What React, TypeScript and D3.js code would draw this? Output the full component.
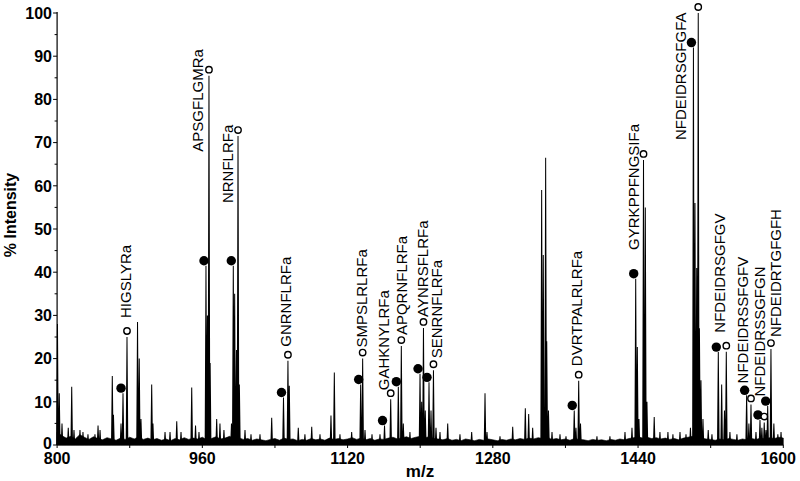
import React from 'react';
import * as d3 from 'd3';

// ---- data ----
const peakMz = [800.4, 802.4, 805.4, 812.3, 816.1, 818.6, 825.2, 828.5, 834, 841.7, 845.1, 847.3, 860.8, 862.1, 870.4, 888.6, 890.5, 892.4, 904.2, 905.6, 918.9, 924.4, 931.8, 936.5, 948.3, 952.5, 956.3, 965.6, 968.6, 975.8, 979.4, 983.8, 992.1, 995.6, 997.6, 1000.8, 1007, 1013.6, 1023.5, 1036.4, 1055.8, 1065.7, 1073, 1080.5, 1089.6, 1101.7, 1105.4, 1111.6, 1124.5, 1139.2, 1146.9, 1155.7, 1181.4, 1188.7, 1201.6, 1205.6, 1211.9, 1217.4, 1221.8, 1230.3, 1243.8, 1256.7, 1271.4, 1273.6, 1287.9, 1301.9, 1315.8, 1319.5, 1323.9, 1333.8, 1335.6, 1338.2, 1339.4, 1341.3, 1345.2, 1354, 1360.6, 1371.6, 1376.6, 1394.7, 1409, 1425.6, 1433.3, 1439.2, 1441, 1448, 1449.8, 1457.8, 1464.1, 1472.9, 1478.4, 1486.2, 1492.8, 1497.7, 1502.7, 1504.6, 1505.4, 1507.6, 1509.3, 1511.5, 1517.3, 1521.4, 1532.1, 1535.2, 1541.2, 1548.9, 1562.1, 1569.9, 1576.4, 1580.9, 1589.6, 1594, 1597.5];
const peakInt = [28, 12, 5, 4, 13.5, 3.5, 3.5, 3, 2.5, 2.5, 4.5, 3.5, 16, 7, 5, 28.5, 20, 6, 14, 5, 3, 3, 5.5, 3, 13.3, 4.5, 3, 30, 19, 6, 5, 3.5, 5, 35, 22, 14, 3.5, 2.5, 2.5, 6.3, 13.7, 4, 2.5, 4.2, 2.5, 6.8, 16.8, 2.5, 3, 3.5, 2.5, 2.5, 5, 3, 10, 8, 8, 4, 3, 5, 2.5, 3, 12, 3, 2, 4.2, 8.5, 7.2, 4, 59, 44, 66.5, 24, 8, 3, 2.5, 2, 4, 5, 2, 2, 3, 4, 22.7, 6, 55, 10, 6.5, 3, 3, 2.5, 3, 2.5, 4, 56, 41, 27, 27, 15, 6, 3.5, 2.5, 14, 8, 3, 2.5, 5, 3, 4, 3.5, 5, 2.5, 3];

const labelNames = ['HIGSLYRa', 'APSGFLGMRa', 'NRNFLRFa', 'GNRNFLRFa', 'SMPSLRLRFa', 'GAHKNYLRFa', 'APQRNFLRFa', 'AYNRSFLRFa', 'SENRNFLRFa', 'DVRTPALRLRFa', 'GYRKPPFNGSIFa', 'NFDEIDRSGFGFA', 'NFDEIDRSGFGV', 'NFDEIDRSSFGFV', 'NFDEIDRSSGFGN', 'NFDEIDRTGFGFH'];
const openMz = [877.0, 967.3, 999.3, 1054.3, 1136.6, 1167.5, 1179.2, 1203.6, 1214.6, 1374.6, 1446.0, 1506.3, 1537.2, 1564.4, 1579.0, 1586.4];
const openInt = [25, 85.5, 71.5, 19.5, 20, 10.6, 22.9, 27.1, 17.3, 14.9, 66, 100, 21.6, 9.4, 5.2, 22.2];
const filledMz = [872.6, 964.0, 994.1, 1049.4, 1134.4, 1160.7, 1175.9, 1199.8, 1209.7, 1369.7, 1437.4, 1501.0, 1528.4, 1559.6, 1574.3, 1582.8];
const filledInt = [12, 41.5, 41.5, 11, 14, 4.5, 13.5, 16.5, 14.5, 8, 38.5, 92, 21.5, 11.5, 5.8, 9];

// baseline noise level, one value every 5 m/z from 800 to 1600
const baselineStart = 800;
const baselineStep = 5;
const baselineVals = [
  3.0, 2.2, 1.6, 2.0, 1.4, 2.4, 1.8, 1.3, 1.9, 1.5, 1.2, 1.7, 1.4, 1.1, 1.6, 1.3, 1.8, 1.4, 1.9, 1.3,
  1.6, 1.2, 1.5, 1.1, 1.4, 1.0, 1.5, 1.2, 1.7, 1.3, 1.6, 1.4, 1.8, 1.2, 1.5, 1.9, 1.4, 1.6, 2.0, 1.5,
  1.7, 1.3, 1.5, 1.1, 1.4, 1.2, 1.0, 1.3, 1.5, 1.1, 1.6, 1.3, 1.4, 1.0, 1.3, 1.1, 1.5, 1.2, 1.4, 1.1,
  1.6, 1.3, 1.5, 1.2, 1.4, 1.7, 1.3, 1.6, 1.2, 1.5, 1.1, 1.4, 1.3, 1.6, 1.8, 1.4, 1.7, 1.9, 1.5, 1.8,
  2.0, 1.7, 1.9, 1.5, 1.4, 1.2, 1.5, 1.1, 1.3, 1.0, 1.4, 1.2, 1.0, 1.3, 1.1, 1.4, 1.2, 1.0, 1.3, 1.1,
  1.4, 1.2, 1.5, 1.3, 1.6, 1.4, 1.7, 1.5, 1.8, 1.3, 1.5, 1.2, 1.4, 1.1, 1.5, 1.3, 1.2, 1.0, 1.3, 1.1,
  1.2, 1.0, 1.3, 1.1, 1.4, 1.2, 1.5, 1.7, 1.9, 1.6, 1.8, 1.5, 1.7, 1.4, 1.6, 1.3, 1.5, 1.2, 1.6, 1.8,
  2.0, 1.8, 1.6, 1.4, 1.3, 1.1, 1.4, 1.2, 1.5, 1.3, 1.1, 1.4, 1.2, 1.5, 1.3, 1.6, 1.4, 1.7, 1.5, 1.8,
  1.6,
];

const xTickValues = [800, 880, 960, 1040, 1120, 1200, 1280, 1360, 1440, 1520, 1600];
const xTickLabels = ['800', '', '960', '', '1120', '', '1280', '', '1440', '', '1600'];
const yTickValues = [0, 5, 10, 15, 20, 25, 30, 35, 40, 45, 50, 55, 60, 65, 70, 75, 80, 85, 90, 95, 100];
const yTickLabels = ['0', '', '10', '', '20', '', '30', '', '40', '', '50', '', '60', '', '70', '', '80', '', '90', '', '100'];

// ---- label placement (pixel offsets relative to the open circle) ----
const labelDx = [-1.5, -11, -11, -2.5, -1, -7.5, 0.5, -0.6, 3, -2.5, -10, -18, -6.5, -8, -4.5, 4.5];
const labelDy = [-13, 82, 73, -8, -5, -3, -5, -5, -6, -8.5, 96, 133, -13, -15, -20, -6];

const FONT = '"Liberation Sans", Arial, Helvetica, sans-serif';

export default function App() {
  const W = 800;
  const H = 481;
  const x = d3.scaleLinear().domain([800, 1600]).range([57.1, 783.3]);
  const y = d3.scaleLinear().domain([0, 100]).range([445, 13]);

  const allMz = peakMz.concat(openMz, filledMz);
  const allInt = peakInt.concat(openInt, filledInt);

  const baseData = baselineVals.map((v, i) => ({ mz: baselineStart + i * baselineStep, v }));
  const baseArea = d3
    .area<{ mz: number; v: number }>()
    .x((d) => x(d.mz))
    .y0(y(0))
    .y1((d) => y(d.v))
    .curve(d3.curveLinear)(baseData) as string;

  const peakPath = allMz
    .map((m, i) => {
      const px = x(m);
      const top = y(allInt[i]);
      const b = y(0);
      return `M${px - 1.3},${b}L${px - 0.5},${top}L${px + 0.5},${top}L${px + 1.3},${b}Z`;
    })
    .join('');

  return (
    <svg
      width={W}
      height={H}
      viewBox={`0 0 ${W} ${H}`}
      style={{ position: 'absolute', left: 0, top: 0, background: '#fff' }}
    >
      <rect x={0} y={0} width={W} height={H} fill="#fff" />
      {/* spectrum */}
      <path d={baseArea} fill="#000" stroke="#000" strokeWidth={0.6} />
      <path d={peakPath} fill="#000" stroke="none" />

      {/* axes */}
      <line x1={x(800)} x2={x(800)} y1={y(0)} y2={y(100) - 1} stroke="#000" strokeWidth={1.2} />
      <line x1={x(800)} x2={x(1600)} y1={y(0)} y2={y(0)} stroke="#000" strokeWidth={1.2} />
      {yTickValues.map((v, i) => (
        <g key={'yt' + i}>
          <line
            x1={x(800) - (yTickLabels[i] ? 4 : 2.5)}
            x2={x(800)}
            y1={y(v)}
            y2={y(v)}
            stroke="#000"
            strokeWidth={1}
          />
          {yTickLabels[i] && (
            <text
              x={52}
              y={v === 0 ? y(v) - 2 : y(v)}
              dy="0.36em"
              textAnchor="end"
              fontFamily={FONT}
              fontWeight="bold"
              fontSize={16}
              fill="#000"
            >
              {yTickLabels[i]}
            </text>
          )}
        </g>
      ))}
      {xTickValues.map((v, i) => (
        <g key={'xt' + i}>
          <line x1={x(v)} x2={x(v)} y1={y(0)} y2={y(0) + 3} stroke="#000" strokeWidth={1} />
          {xTickLabels[i] && (
            <text
              x={i === xTickValues.length - 1 ? 796 : x(v)}
              y={464}
              textAnchor={i === xTickValues.length - 1 ? 'end' : 'middle'}
              fontFamily={FONT}
              fontWeight="bold"
              fontSize={16}
              fill="#000"
            >
              {xTickLabels[i]}
            </text>
          )}
        </g>
      ))}
      <text x={420} y={477} textAnchor="middle" fontFamily={FONT} fontWeight="bold" fontSize={17} fill="#000">
        m/z
      </text>
      <text
        transform={`translate(10,${215}) rotate(-90)`}
        textAnchor="middle"
        dominantBaseline="central"
        fontFamily={FONT}
        fontWeight="bold"
        fontSize={16}
        fill="#000"
      >
        % Intensity
      </text>

      {/* markers */}
      {filledMz.map((m, i) => (
        <circle key={'f' + i} cx={x(m) - 2} cy={y(filledInt[i]) - 5} r={4.7} fill="#000" />
      ))}
      {openMz.map((m, i) => (
        <circle
          key={'o' + i}
          cx={x(m)}
          cy={y(openInt[i]) - 6}
          r={3.2}
          fill="#fff"
          stroke="#000"
          strokeWidth={1.4}
        />
      ))}

      {/* peptide labels */}
      {labelNames.map((name, i) => {
        const cx = x(openMz[i]);
        const cy = y(openInt[i]) - 6;
        return (
          <text
            key={'l' + i}
            transform={`translate(${cx + labelDx[i]},${cy + labelDy[i]}) rotate(-90)`}
            textAnchor="start"
            dominantBaseline="central"
            fontFamily={FONT}
            fontSize={15}
            fill="#000"
          >
            {name}
          </text>
        );
      })}
    </svg>
  );
}
